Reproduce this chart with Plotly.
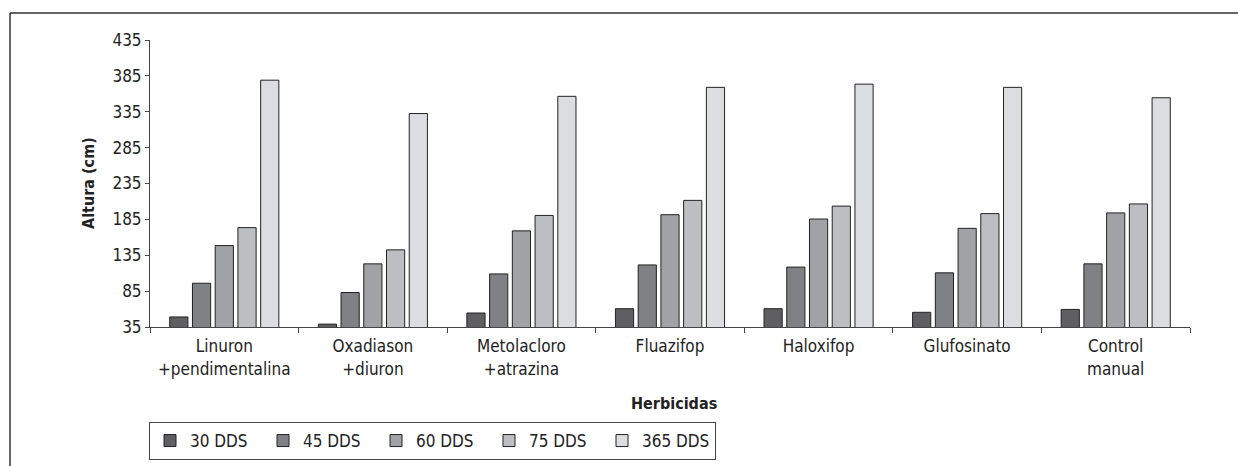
import plotly.graph_objects as go

categories = ["Linuron<br>+pendimentalina", "Oxadiason<br>+diuron", "Metolacloro<br>+atrazina",
              "Fluazifop", "Haloxifop", "Glufosinato", "Control<br>manual"]
series_names = ["30 DDS", "45 DDS", "60 DDS", "75 DDS", "365 DDS"]
dds30 = [49, 39, 54.5, 60.5, 60.5, 55.5, 59.5]
dds45 = [96, 83, 109, 121.5, 118.5, 110.5, 123]
dds60 = [148.5, 123, 169, 191.5, 185.5, 172.5, 194]
dds75 = [173.5, 142.5, 190.5, 211.5, 203.5, 193, 206.5]
dds365 = [379, 332.5, 356.5, 369, 373.5, 369, 354.5]
y_ticks = [35, 85, 135, 185, 235, 285, 335, 385, 435]

series_values = [dds30, dds45, dds60, dds75, dds365]
colors = ["#5f5f61", "#808185", "#a1a2a6", "#bdbec2", "#dcdde0"]

FONT = "Liberation Sans Narrow, DejaVu Sans Condensed, Roboto Condensed, Arial Narrow, sans-serif"
FS = 17

fig = go.Figure()
for name, vals, col in zip(series_names, series_values, colors):
    fig.add_trace(go.Bar(x=categories, y=vals, name=name,
                         marker=dict(color=col, line=dict(color="#222222", width=1))))

W, H = 1238, 466
L, R, T, B = 150, 48, 40, 139
pw = W - L - R
ph = H - T - B

def px_x(x):
    return (x - L) / pw

def px_y(y):
    return (H - B - y) / ph

fig.update_layout(
    width=W, height=H,
    margin=dict(l=L, r=R, t=T, b=B, autoexpand=False),
    paper_bgcolor="white", plot_bgcolor="white",
    barmode="group", bargap=0.235, bargroupgap=0.2,
    font=dict(family=FONT, size=FS, color="#222222"),
    showlegend=True,
    legend=dict(orientation="h", x=px_x(149), y=px_y(422), xanchor="left", yanchor="top",
                bordercolor="#444444", borderwidth=1, entrywidth=68,
                font=dict(family=FONT, size=FS, color="#222222"),
                traceorder="normal"),
)
fig.update_xaxes(showline=True, linecolor="#444444", linewidth=1, ticks="outside",
                 tickson="boundaries", ticklen=5, tickcolor="#444444", showgrid=False,
                 tickangle=0, automargin=False, ticklabelstandoff=4,
                 tickfont=dict(family=FONT, size=FS, color="#222222"))
fig.update_yaxes(range=[35, 435], tickvals=y_ticks, showline=True, linecolor="#444444",
                 linewidth=1, ticks="outside", ticklen=4, tickcolor="#444444", showgrid=False,
                 zeroline=False, automargin=False,
                 tickfont=dict(family=FONT, size=FS, color="#222222"))

fig.add_annotation(text="<b>Herbicidas</b>", xref="paper", yref="paper", x=px_x(674), y=px_y(403),
                   showarrow=False, font=dict(family=FONT, size=16, color="#222222"),
                   xanchor="center", yanchor="middle")
fig.add_annotation(text="<b>Altura (cm)</b>", xref="paper", yref="paper", x=px_x(88), y=px_y(183),
                   showarrow=False, textangle=-90, font=dict(family=FONT, size=16, color="#222222"),
                   xanchor="center", yanchor="middle")

fig.add_shape(type="line", xref="paper", yref="paper", x0=px_x(10), x1=px_x(1240),
              y0=px_y(13), y1=px_y(13), line=dict(color="#333333", width=1.5))
fig.add_shape(type="line", xref="paper", yref="paper", x0=px_x(10), x1=px_x(10),
              y0=px_y(13), y1=px_y(470), line=dict(color="#333333", width=1.5))

fig.write_html("out.html", config={"displayModeBar": False},
               post_script="document.body.style.margin='0';document.body.style.overflow='hidden';")
